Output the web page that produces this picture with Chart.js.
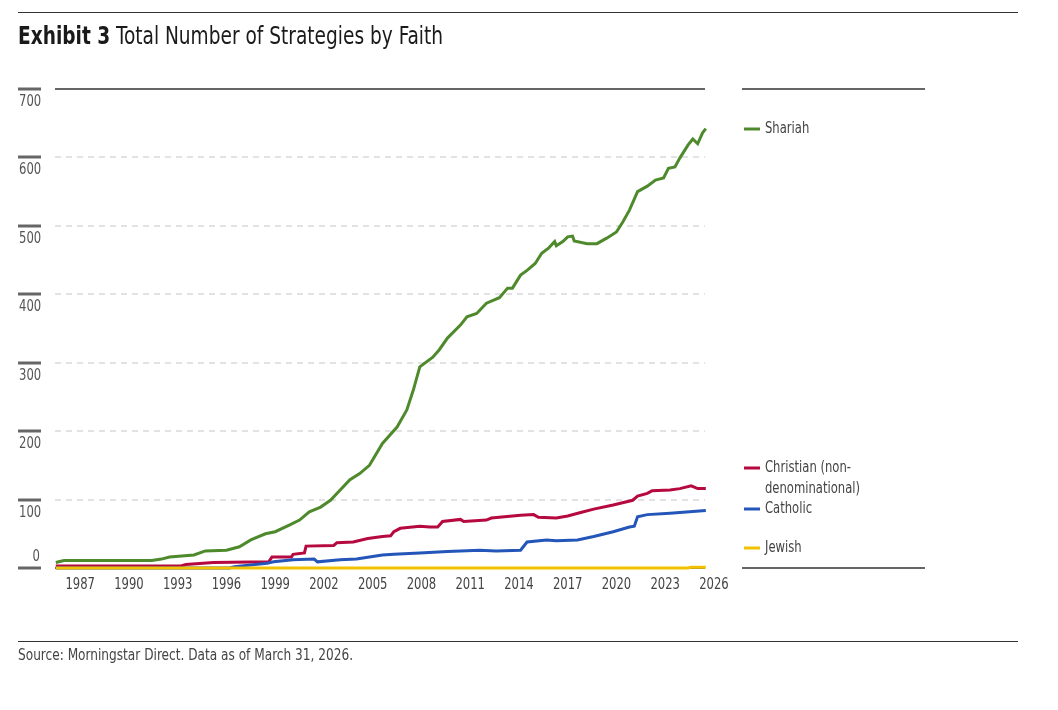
<!DOCTYPE html>
<html>
<head>
<meta charset="utf-8">
<script src="https://cdn.jsdelivr.net/npm/chart.js@4/dist/chart.umd.min.js"></script>
<style>
  body { margin: 0; background: #fff; font-family: "Liberation Sans Narrow", "DejaVu Sans Condensed", sans-serif; }
  #wrap { position: relative; width: 1058px; height: 710px; }
  #chart { position: absolute; left: 0; top: 0; }
  .rule { position: absolute; left: 18px; width: 1000px; height: 1px; background: #333; }
  #title { position: absolute; left: 18px; top: 22px; font-size: 24px; color: #1a1a1a; white-space: nowrap;
           transform: scaleX(0.86); transform-origin: left top; }
  #title b { font-weight: bold; }
  #source { position: absolute; left: 18px; top: 646px; font-size: 15px; color: #444; white-space: nowrap;
            transform: scaleX(0.9); transform-origin: left top; }
</style>
</head>
<body>
<div id="wrap">
  <canvas id="chart" width="1058" height="710"></canvas>
  <div class="rule" style="top:12px"></div>
  <div id="title"><b>Exhibit 3</b> Total Number of Strategies by Faith</div>
  <div class="rule" style="top:641px"></div>
  <div id="source">Source: Morningstar Direct. Data as of March 31, 2026.</div>
</div>
<script>
const yTicks = [0, 100, 200, 300, 400, 500, 600, 700];
const xTicks = [1987, 1990, 1993, 1996, 1999, 2002, 2005, 2008, 2011, 2014, 2017, 2020, 2023, 2026];

const shariahYears = [1985.5, 1986.0, 1991.4, 1992.0, 1992.5, 1994.0, 1994.7, 1996.0, 1996.8, 1997.5, 1998.4, 1999.0, 1999.9, 2000.5, 2001.1, 2001.8, 2002.4, 2003.0, 2003.6, 2004.2, 2004.8, 2005.6, 2006.5, 2007.1, 2007.5, 2007.9, 2008.7, 2009.1, 2009.6, 2010.4, 2010.8, 2011.4, 2012.0, 2012.8, 2013.3, 2013.6, 2014.1, 2014.5, 2015.0, 2015.4, 2015.8, 2016.2, 2016.3, 2016.7, 2017.0, 2017.3, 2017.4, 2018.2, 2018.8, 2019.4, 2020.0, 2020.4, 2020.8, 2021.3, 2021.9, 2022.4, 2022.9, 2023.2, 2023.6, 2023.9, 2024.4, 2024.7, 2025.0, 2025.3, 2025.5];
const shariahValues = [8, 11, 11, 13, 16, 19, 25, 26, 31, 41, 50, 53, 63, 70, 82, 89, 99, 114, 129, 138, 150, 182, 206, 231, 260, 294, 308, 319, 336, 355, 367, 372, 387, 395, 409, 409, 428, 435, 445, 460, 467, 477, 471, 477, 484, 485, 478, 474, 474, 482, 491, 506, 523, 550, 558, 567, 570, 584, 586, 599, 618, 627, 620, 636, 642];

const christianYears = [1985.5, 1993.2, 1993.5, 1995.2, 1998.6, 1998.8, 2000.0, 2000.1, 2000.8, 2000.9, 2002.6, 2002.8, 2003.8, 2004.7, 2005.6, 2006.1, 2006.3, 2006.7, 2007.9, 2008.5, 2009.0, 2009.3, 2010.4, 2010.6, 2012.0, 2012.3, 2014.1, 2014.9, 2015.2, 2016.3, 2017.0, 2017.8, 2018.6, 2019.8, 2021.0, 2021.3, 2021.9, 2022.2, 2023.3, 2023.9, 2024.6, 2025.0, 2025.5];
const christianValues = [3, 3, 5, 8, 9, 16, 16, 20, 22, 32, 33, 37, 38, 43, 46, 47, 53, 58, 61, 60, 60, 68, 71, 68, 70, 73, 77, 78, 74, 73, 76, 81, 86, 92, 99, 105, 109, 113, 114, 116, 120, 116, 116];

const catholicYears = [1985.5, 1996.2, 1996.5, 1998.5, 1998.9, 2000.1, 2001.4, 2001.6, 2003.0, 2004.0, 2004.8, 2005.6, 2006.3, 2007.9, 2009.6, 2011.6, 2012.6, 2014.1, 2014.5, 2015.7, 2016.3, 2017.6, 2018.6, 2019.8, 2020.8, 2021.1, 2021.3, 2021.9, 2023.3, 2023.9, 2025.5];
const catholicValues = [0, 0, 2, 7, 9, 12, 13, 9, 12, 13, 16, 19, 20, 22, 24, 26, 25, 26, 38, 41, 40, 41, 46, 53, 60, 61, 75, 78, 80, 81, 84];

const jewishYears = [1985.5, 2024.4, 2024.6, 2025.5];
const jewishValues = [0, 0, 1, 1];

const seriesNames = ['Shariah', 'Christian (non-denominational)', 'Catholic', 'Jewish'];
const seriesColors = ['#4e8a2c', '#b5093f', '#2356b8', '#f2c200'];

function pts(xs, ys) { return xs.map((x, i) => ({ x: x, y: ys[i] })); }

const FONT = '"Liberation Sans Narrow", "DejaVu Sans Condensed", sans-serif';

// narrow text: draw with a horizontal squeeze
function narrowText(ctx, text, x, y, align, sx) {
  ctx.save();
  ctx.translate(x, y);
  ctx.scale(sx, 1);
  ctx.textAlign = align;
  ctx.fillText(text, 0, 0);
  ctx.restore();
}

const frame = {
  id: 'frame',
  beforeDatasetsDraw(chart) {
    const ctx = chart.ctx, ys = chart.scales.y, xs = chart.scales.x;
    const a = chart.chartArea;
    ctx.save();
    yTicks.forEach(v => {
      const py = Math.round(ys.getPixelForValue(v));
      if (v === 0 || v === 700) {
        ctx.strokeStyle = '#666'; ctx.lineWidth = 2; ctx.setLineDash([]);
        ctx.beginPath(); ctx.moveTo(a.left, py); ctx.lineTo(a.right, py);
        ctx.moveTo(742, py); ctx.lineTo(925, py); ctx.stroke();
      } else {
        ctx.strokeStyle = '#e2e2e2'; ctx.lineWidth = 2; ctx.setLineDash([6, 5]);
        ctx.beginPath(); ctx.moveTo(a.left, py); ctx.lineTo(a.right, py); ctx.stroke();
      }
      ctx.setLineDash([]);
      ctx.strokeStyle = '#666'; ctx.lineWidth = 3;
      ctx.beginPath(); ctx.moveTo(18, py); ctx.lineTo(41, py); ctx.stroke();
      ctx.fillStyle = '#555'; ctx.font = '15px ' + FONT;
      ctx.textBaseline = 'middle';
      if (v === 0) narrowText(ctx, '0', 40, py - 11, 'right', 0.86);
      else narrowText(ctx, String(v), 19, py + 13, 'left', 0.86);
    });
    ctx.fillStyle = '#444'; ctx.font = '15px ' + FONT;
    ctx.textBaseline = 'middle';
    xTicks.forEach(t => narrowText(ctx, String(t), xs.getPixelForValue(t), 585, 'center', 0.86));
    ctx.restore();
  },
  afterDraw(chart) {
    const ctx = chart.ctx;
    const legendRows = [[129, 0, 'Shariah'], [468, 1, 'Christian (non-'], [489, -1, 'denominational)'], [509, 2, 'Catholic'], [548, 3, 'Jewish']];
    ctx.save();
    ctx.font = '15px ' + FONT; ctx.textBaseline = 'middle';
    legendRows.forEach(r => {
      if (r[1] >= 0) {
        ctx.strokeStyle = seriesColors[r[1]]; ctx.lineWidth = 3;
        ctx.beginPath(); ctx.moveTo(744, r[0]); ctx.lineTo(760, r[0]); ctx.stroke();
      }
      ctx.fillStyle = '#444';
      narrowText(ctx, r[2], 765, r[0], 'left', 0.86);
    });
    ctx.restore();
  }
};

const allX = [shariahYears, christianYears, catholicYears, jewishYears];
const allY = [shariahValues, christianValues, catholicValues, jewishValues];

new Chart(document.getElementById('chart'), {
  type: 'line',
  data: {
    datasets: seriesNames.map((n, i) => ({
      label: n,
      data: pts(allX[i], allY[i]),
      borderColor: seriesColors[i],
      borderWidth: 3,
      pointRadius: 0,
      tension: 0,
      clip: false,
      order: 3 - i
    }))
  },
  options: {
    responsive: false,
    animation: false,
    layout: { padding: { left: 55, right: 353, top: 89, bottom: 142 } },
    plugins: { legend: { display: false }, tooltip: { enabled: false } },
    scales: {
      x: { type: 'linear', min: 1985.45, max: 2025.45, display: false },
      y: { min: 0, max: 700, display: false }
    }
  },
  plugins: [frame]
});
</script>
</body>
</html>
